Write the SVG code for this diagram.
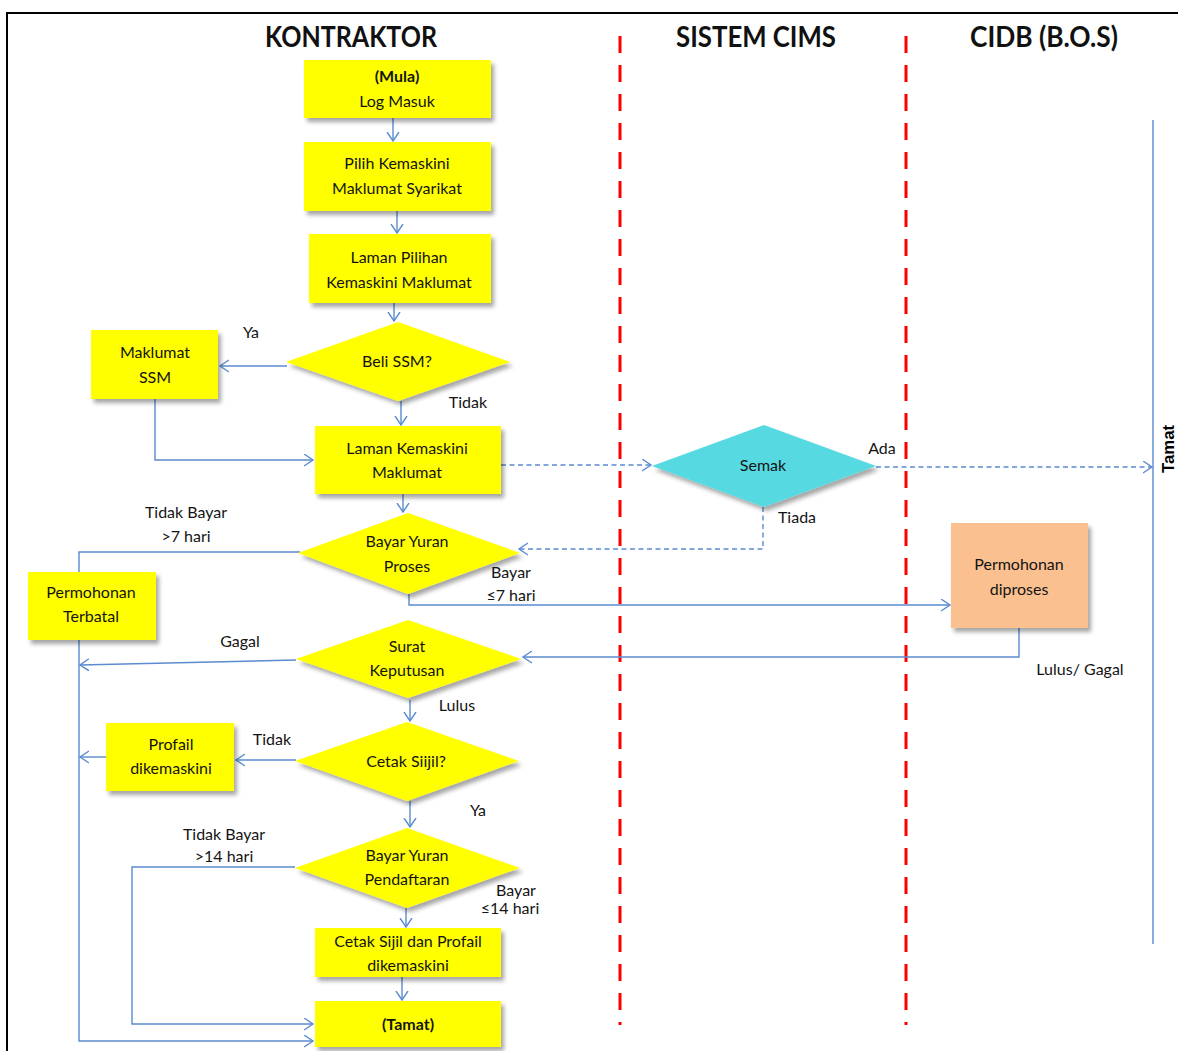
<svg xmlns="http://www.w3.org/2000/svg" width="1178" height="1051" viewBox="0 0 1178 1051">
<defs>
<style>
.t{font-family:Lato,"Liberation Sans",sans-serif;font-size:16px;fill:#141414;text-anchor:middle}
.b{font-weight:bold}
.h{font-family:Lato,"Liberation Sans",sans-serif;font-size:28px;font-weight:bold;fill:#111;text-anchor:middle}
.y{fill:#FFFF00;filter:url(#sh)}
.c{stroke:#5B8BD0;stroke-width:1.4;fill:none}
.d{stroke-dasharray:5 3.5}
.r{stroke:#FF0000;stroke-width:3;stroke-dasharray:17 12;fill:none}
</style>
<filter id="sh" x="-20%" y="-20%" width="150%" height="150%">
<feDropShadow dx="3" dy="4" stdDeviation="2" flood-color="#000" flood-opacity="0.35"/>
</filter>
<marker id="a" markerUnits="userSpaceOnUse" markerWidth="12" markerHeight="14" refX="9" refY="6.5" orient="auto">
<path d="M0,0.5 L9,6.5 L0,12.5" fill="none" stroke="#5B8BD0" stroke-width="1.4"/>
</marker>
</defs>
<rect width="1178" height="1051" fill="#fff"/>
<g id="frame">
<path d="M6,13 H1178 M7,12 V1051" stroke="#000" stroke-width="2" fill="none"/>
<path class="r" d="M620,36 V1025 M906,36 V1025"/>
</g>
<g id="headers">
<text class="h" x="351" y="47" textLength="172" lengthAdjust="spacingAndGlyphs">KONTRAKTOR</text>
<text class="h" x="756" y="47" textLength="160" lengthAdjust="spacingAndGlyphs">SISTEM CIMS</text>
<text class="h" x="1044" y="47" textLength="148" lengthAdjust="spacingAndGlyphs">CIDB (B.O.S)</text>
</g>
<g id="connectors">
<path class="c" d="M393,118 V141" marker-end="url(#a)"/>
<path class="c" d="M397,211 V233" marker-end="url(#a)"/>
<path class="c" d="M394,303 V321" marker-end="url(#a)"/>
<path class="c" d="M287,366 H220" marker-end="url(#a)"/>
<path class="c" d="M401,401 V425" marker-end="url(#a)"/>
<path class="c" d="M155,399 V460 H313" marker-end="url(#a)"/>
<path class="c d" d="M501,465 H651" marker-end="url(#a)"/>
<path class="c" d="M403,494 V512" marker-end="url(#a)"/>
<path class="c d" d="M763,507 V549 H519" marker-end="url(#a)"/>
<path class="c d" d="M876,467 H1152" marker-end="url(#a)"/>
<path class="c" d="M300,552 H79 V572"/>
<path class="c" d="M409,594 V605 H950" marker-end="url(#a)"/>
<path class="c" d="M1019,628 V657 H523" marker-end="url(#a)"/>
<path class="c" d="M296,660 L80,665" marker-end="url(#a)"/>
<path class="c" d="M79,640 V1041 H313" marker-end="url(#a)"/>
<path class="c" d="M410,700 V721" marker-end="url(#a)"/>
<path class="c" d="M296,760 H236" marker-end="url(#a)"/>
<path class="c" d="M106,757 H80" marker-end="url(#a)"/>
<path class="c" d="M410,801 V827" marker-end="url(#a)"/>
<path class="c" d="M295,867 H132 V1024 H313" marker-end="url(#a)"/>
<path class="c" d="M406,908 V927" marker-end="url(#a)"/>
<path class="c" d="M402,977 V1000" marker-end="url(#a)"/>
<path class="c" d="M1153,120 V944"/>
</g>
<g id="n-mula">
<rect class="y" x="304" y="60" width="187" height="58"/>
<text class="t b" x="397" y="82">(Mula)</text>
<text class="t" x="397" y="107">Log Masuk</text>
</g>
<g id="n-pilih">
<rect class="y" x="304" y="142" width="187" height="69"/>
<text class="t" x="397" y="169">Pilih Kemaskini</text>
<text class="t" x="397" y="194">Maklumat Syarikat</text>
</g>
<g id="n-laman-pilihan">
<rect class="y" x="309" y="234" width="182" height="69"/>
<text class="t" x="399" y="263">Laman Pilihan</text>
<text class="t" x="399" y="288">Kemaskini Maklumat</text>
</g>
<g id="n-beli">
<polygon class="y" points="398,322 510,362 398,401 286,362"/>
<text class="t" x="397" y="367">Beli SSM?</text>
</g>
<g id="n-ssm">
<rect class="y" x="91" y="330" width="127" height="69"/>
<text class="t" x="155" y="358">Maklumat</text>
<text class="t" x="155" y="383">SSM</text>
</g>
<g id="n-laman-kemaskini">
<rect class="y" x="315" y="426" width="186" height="68"/>
<text class="t" x="407" y="454">Laman Kemaskini</text>
<text class="t" x="407" y="478">Maklumat</text>
</g>
<g id="n-semak">
<polygon points="764,425 876,466 764,507 652,466" fill="#57D9E1" filter="url(#sh)"/>
<text class="t" x="763" y="471">Semak</text>
</g>
<g id="n-bayar-proses">
<polygon class="y" points="408,513 520,553 408,594 298,553"/>
<text class="t" x="407" y="547">Bayar Yuran</text>
<text class="t" x="407" y="572">Proses</text>
</g>
<g id="n-terbatal">
<rect class="y" x="28" y="572" width="128" height="68"/>
<text class="t" x="91" y="598">Permohonan</text>
<text class="t" x="91" y="622">Terbatal</text>
</g>
<g id="n-diproses">
<rect x="951" y="523" width="137" height="105" fill="#FAC090" filter="url(#sh)"/>
<text class="t" x="1019" y="570">Permohonan</text>
<text class="t" x="1019" y="595">diproses</text>
</g>
<g id="n-surat">
<polygon class="y" points="408,620 521,659 408,698 296,659"/>
<text class="t" x="407" y="652">Surat</text>
<text class="t" x="407" y="676">Keputusan</text>
</g>
<g id="n-cetak">
<polygon class="y" points="407,722 519,761 407,801 295,761"/>
<text class="t" x="406" y="767">Cetak Siijil?</text>
</g>
<g id="n-profail">
<rect class="y" x="106" y="723" width="128" height="68"/>
<text class="t" x="171" y="750">Profail</text>
<text class="t" x="171" y="774">dikemaskini</text>
</g>
<g id="n-bayar-daftar">
<polygon class="y" points="407,828 520,868 407,908 295,868"/>
<text class="t" x="407" y="861">Bayar Yuran</text>
<text class="t" x="407" y="885">Pendaftaran</text>
</g>
<g id="n-cetak-sijil">
<rect class="y" x="315" y="928" width="186" height="49"/>
<text class="t" x="408" y="947">Cetak Sijil dan Profail</text>
<text class="t" x="408" y="971">dikemaskini</text>
</g>
<g id="n-tamat">
<rect class="y" x="315" y="1001" width="186" height="46"/>
<text class="t b" x="408" y="1030">(Tamat)</text>
</g>
<g id="labels">
<text class="t" x="251" y="338">Ya</text>
<text class="t" x="468" y="408">Tidak</text>
<text class="t" x="186" y="518">Tidak Bayar</text>
<text class="t" x="186" y="542">&gt;7 hari</text>
<text class="t" x="511" y="578">Bayar</text>
<text class="t" x="511" y="601">≤7 hari</text>
<text class="t" x="882" y="454">Ada</text>
<text class="t" x="797" y="523">Tiada</text>
<text class="t" x="240" y="647">Gagal</text>
<text class="t" x="1080" y="675">Lulus/ Gagal</text>
<text class="t" x="457" y="711">Lulus</text>
<text class="t" x="272" y="745">Tidak</text>
<text class="t" x="478" y="816">Ya</text>
<text class="t" x="224" y="840">Tidak Bayar</text>
<text class="t" x="224" y="862">&gt;14 hari</text>
<text class="t" x="516" y="896">Bayar</text>
<text class="t" x="510" y="914">≤14 hari</text>
<text transform="translate(1168,449) rotate(-90)" y="6" text-anchor="middle" textLength="48" lengthAdjust="spacingAndGlyphs" style="font-family:'Liberation Sans',Arial,sans-serif;font-size:16px;font-weight:bold;fill:#000">Tamat</text>
</g>
</svg>
